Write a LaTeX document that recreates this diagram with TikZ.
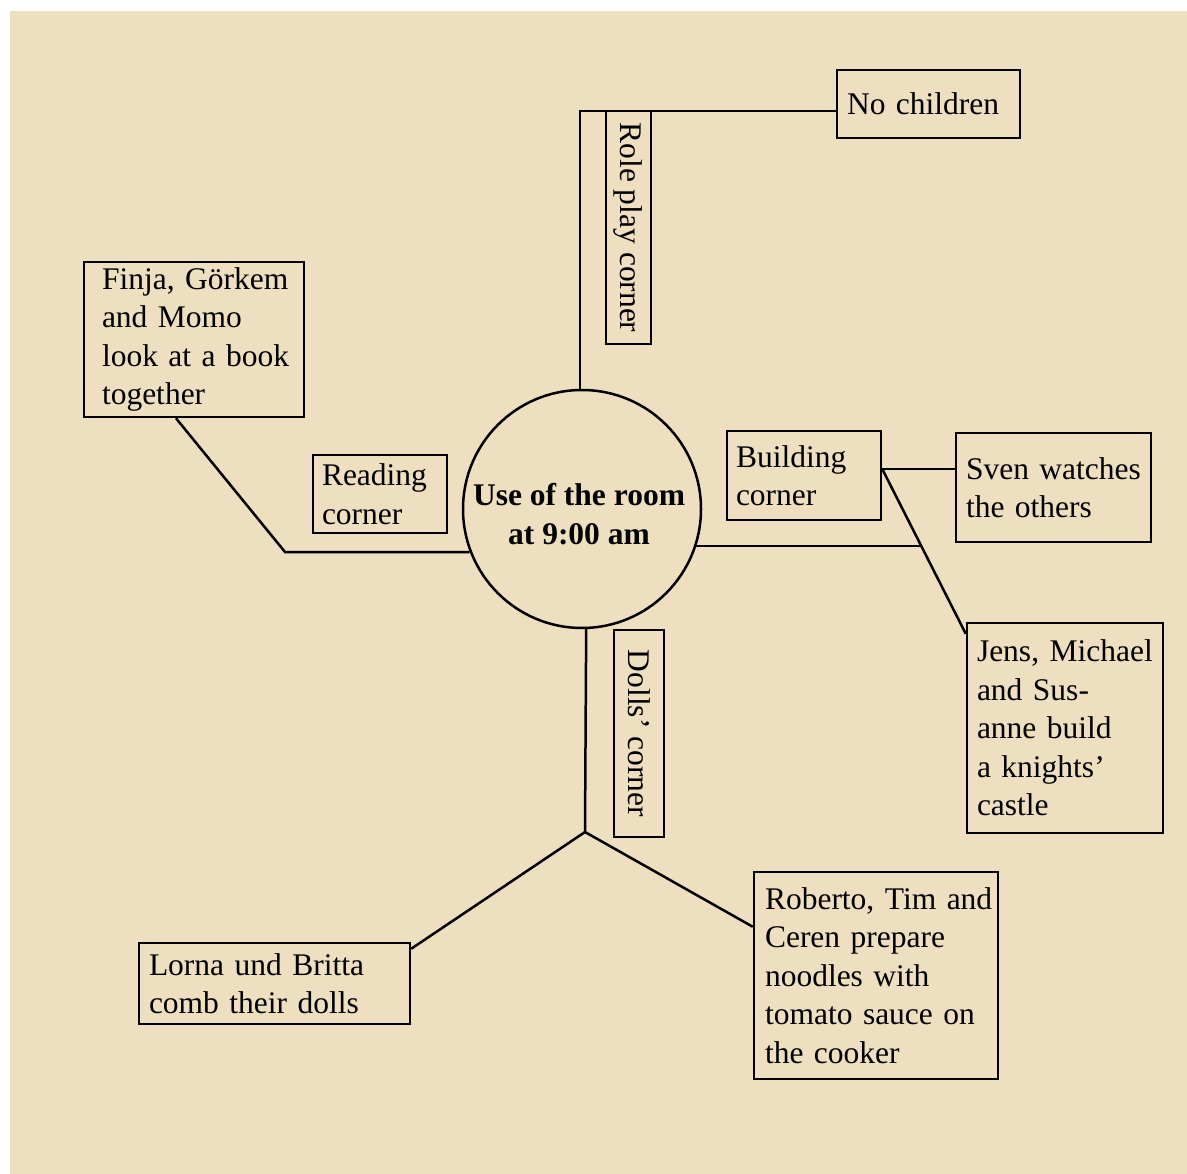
\documentclass[tikz,border=0pt]{standalone}
\usepackage{fontspec}
\setmainfont{Liberation Serif}
\definecolor{bgc}{RGB}{237,223,191}
\newcommand{\nb}[1]{\mbox{#1}}
\begin{document}
\begin{tikzpicture}[x=1pt,y=-1pt,
  txt/.style={font=\fontsize{31.5}{38.5}\selectfont},
  box/.style={draw, line width=2.5pt, align=left, inner xsep=10pt, inner ysep=0pt, txt},
  vbox/.style={draw, line width=2.5pt, rotate=-90, inner sep=0pt, txt},
  conn/.style={draw, line width=2.5pt}]
\useasboundingbox (0,0) rectangle (1187,1174);
\fill[bgc] (10,11) rectangle (1187,1174);

% centre
\node[draw, circle, line width=2.5pt, minimum size=238pt, inner sep=0pt] (c) at (582,509) {};
\node[align=center, inner sep=0pt, font=\fontsize{31.5}{38.5}\selectfont\bfseries] (ct) at (579,514) {Use of the room\\at 9:00 am};

% boxes
\node[box, text width=163pt, minimum height=68pt] (nc) at (928.5,104) {\nb{No children}};
\node[vbox, minimum width=233pt, minimum height=45pt] (rp) at (628.5,227.5) {Role play corner};
\node[box, inner xsep=18pt, text width=184pt, minimum height=155pt] (fi) at (194,339.5)
  {\nb{Finja, Görkem}\\\nb{and Momo}\\\nb{look at a book}\\\nb{together}};
\node[box, inner xsep=9pt, text width=116pt, minimum height=78pt] (rc) at (380,494) {Reading\\corner};
\node[box, inner xsep=9pt, text width=136pt, minimum height=89pt] (bc) at (804,475.5) {Building\\corner};
\node[box, text width=175pt, minimum height=109pt] (sv) at (1053.5,487.5) {\nb{Sven watches}\\\nb{the others}};
\node[box, text width=176pt, minimum height=210pt] (je) at (1065,728)
  {\nb{Jens, Michael}\\\nb{and Sus-}\\\nb{anne build}\\\nb{a knights’}\\\nb{castle}};
\node[vbox, minimum width=207pt, minimum height=50pt] (dc) at (639,733.5) {Dolls’ corner};
\node[box, text width=251pt, minimum height=81pt] (lo) at (274.5,983.5) {\nb{Lorna und Britta}\\\nb{comb their dolls}};
\node[box, inner xsep=11pt, text width=222pt, minimum height=207pt] (ro) at (876,975.5)
  {\nb{Roberto, Tim and}\\\nb{Ceren prepare}\\\nb{noodles with}\\\nb{tomato sauce on}\\\nb{the cooker}};

% helper coordinates
\coordinate (rl) at (285,552);
\coordinate (re) at (922,546);
\coordinate (j) at (585,832);
\coordinate (bx) at ([yshift=6.5pt]bc.east);

% connectors
\draw[conn] (c.91.4) |- ([yshift=-7pt]nc.west);
\draw[conn] ([xshift=-18pt]fi.south) -- (rl) -- (c.201.2);
\draw[conn] (c.-18.1) -- (c.-18.1 -| re);
\draw[conn] (bx) -- (bx -| sv.west);
\draw[conn] (bx) -- ([yshift=-12pt]je.north west);
\draw[conn] (c.-88.6) -- (j);
\draw[conn] (j) -- ([yshift=-7pt]lo.north east);
\draw[conn] (j) -- ([yshift=-56pt]ro.north west);
\end{tikzpicture}
\end{document}
